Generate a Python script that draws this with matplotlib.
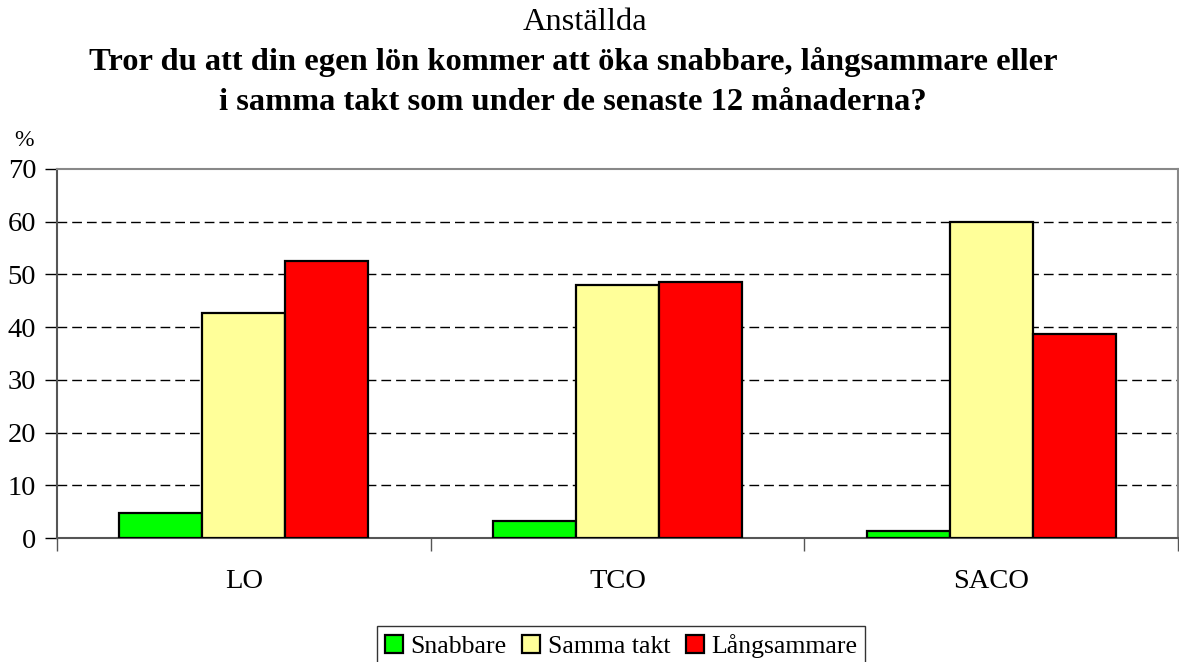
import matplotlib.pyplot as plt
import numpy as np

plt.rcParams['font.family'] = ['Liberation Serif', 'DejaVu Serif']

groups = ["LO", "TCO", "SACO"]
series = ["Snabbare", "Samma takt", "Långsammare"]
snabbare = [4.8, 3.3, 1.3]
samma_takt = [42.6, 48.0, 60.0]
langsammare = [52.6, 48.5, 38.7]
colors = ['#00ff00', '#ffff99', '#ff0000']

fig = plt.figure(figsize=(11.79, 6.62), dpi=100)
ax = fig.add_axes([57/1179, 1-538/662, 1121/1179, 369/662])

x = np.arange(len(groups))
w = 0.222
for j, vals in enumerate([snabbare, samma_takt, langsammare]):
    ax.bar(x + (j-1)*w, vals, w, color=colors[j], edgecolor='black',
           linewidth=1.6, label=series[j], zorder=3)

ax.set_xlim(-0.5, 2.5)
ax.set_ylim(0, 70)
ax.set_yticks(range(0, 80, 10))
ax.tick_params(axis='y', labelsize=20.5, length=9, width=1, direction='out', color='black', pad=6)
ax.set_xticks([-0.5, 0.5, 1.5, 2.5])
ax.set_xticklabels([])
ax.set_xticks(x, minor=True)
ax.set_xticklabels(groups, minor=True)
ax.tick_params(axis='x', which='major', length=9, width=1, color='#555555')
ax.tick_params(axis='x', which='minor', length=0, labelsize=20.5, pad=22)

for y in range(10, 70, 10):
    ax.axhline(y, color='black', linewidth=1, dashes=(7, 3.6), zorder=1)

for s in ['left', 'bottom']:
    ax.spines[s].set_color('#555555')
    ax.spines[s].set_linewidth(1.5)
for s in ['top', 'right']:
    ax.spines[s].set_color('#888888')
    ax.spines[s].set_linewidth(1.5)

fig.text(24/1179, 1-146/662, '%', fontsize=17, ha='center', va='baseline')
fig.text(585/1179, 1-30/662, 'Anställda', fontsize=23.4, ha='center', va='baseline')
fig.text(573/1179, 1-70/662,
         'Tror du att din egen lön kommer att öka snabbare, långsammare eller',
         fontsize=23.4, fontweight='bold', ha='center', va='baseline')
fig.text(573/1179, 1-110/662,
         'i samma takt som under de senaste 12 månaderna?',
         fontsize=23.4, fontweight='bold', ha='center', va='baseline')

leg = fig.legend(loc='upper center', bbox_to_anchor=(621/1179, 1-626/662), ncol=3,
                 fontsize=18.5, frameon=True, fancybox=False, edgecolor='black',
                 handlelength=0.7, handleheight=0.7, handletextpad=0.3,
                 columnspacing=0.6, borderpad=0.3, borderaxespad=0)
leg.get_frame().set_linewidth(1)

fig.savefig('out.png', dpi=100)
